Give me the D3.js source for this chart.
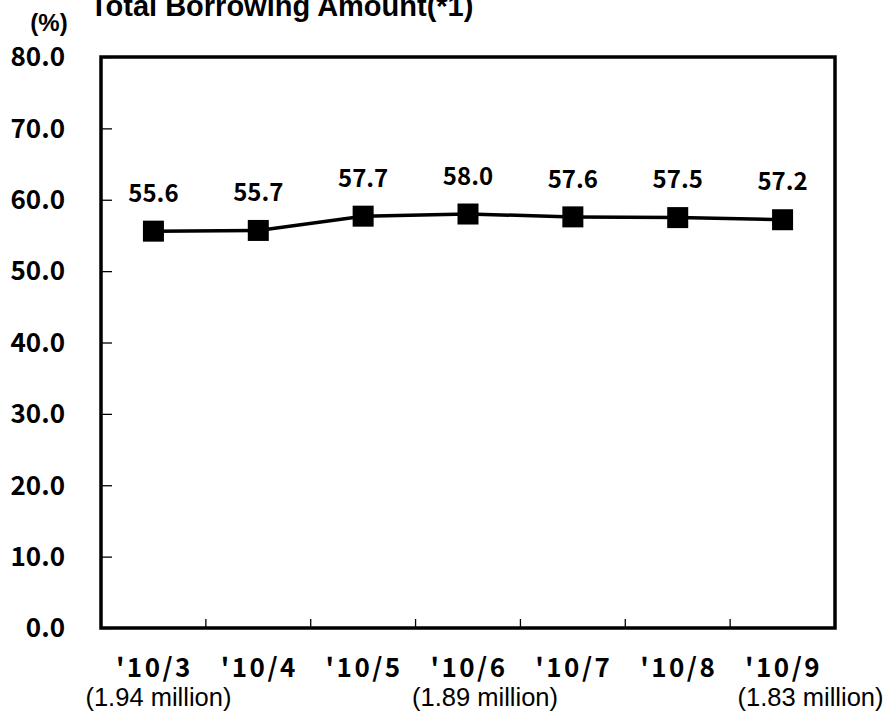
<!DOCTYPE html>
<html>
<head>
<meta charset="utf-8">
<script src="https://cdn.jsdelivr.net/npm/d3@7"></script>
<style>
  body { margin: 0; background: #fff; }
  svg { display: block; }
</style>
</head>
<body>
<svg width="885" height="718"></svg>
<script>
// chart data
var months = ["'10/3", "'10/4", "'10/5", "'10/6", "'10/7", "'10/8", "'10/9"];
var ratio = [55.6, 55.7, 57.7, 58.0, 57.6, 57.5, 57.2];
var yTicks = [0, 10, 20, 30, 40, 50, 60, 70, 80];
var notes = [
	{month: "'10/3", text: "(1.94 million)"},
	{month: "'10/6", text: "(1.89 million)"},
	{month: "'10/9", text: "(1.83 million)"}
];
var titleText = "Total Borrowing Amount(*1)";
var unitText = "(%)";

var svg = d3.select('svg');
var jpFont = '"Noto Sans CJK JP", "DejaVu Sans Condensed", sans-serif';
var latFont = '"Liberation Sans", Arial, sans-serif';

//plot box (note: "top" is reserved on window, so use box.*)
var box = {left: 101, right: 835, top: 57, bottom: 628};

var x = d3.scaleBand().domain(months).range([box.left, box.right]);
var y = d3.scaleLinear().domain([0, 80]).range([box.bottom, box.top]);

//title + unit (title is clipped at the top edge like the original)
svg.append('text')
	.attr('x', 90).attr('y', 16)
	.attr('font-family', latFont).attr('font-weight', 'bold').attr('font-size', 29)
	.text(titleText);
svg.append('text')
	.attr('x', 49).attr('y', 31)
	.attr('text-anchor', 'middle')
	.attr('font-family', latFont).attr('font-weight', 'bold').attr('font-size', 24)
	.text(unitText);

//y axis inner ticks
var yAxis = d3.axisRight(y).tickValues(yTicks).tickSize(11).tickFormat('');
svg.append('g')
	.attr('transform', 'translate(' + box.left + ',0)')
	.call(yAxis)
	.call(function(g){ g.select('.domain').remove(); })
	.selectAll('line').attr('stroke', '#000').attr('stroke-width', 1.3);

svg.selectAll('.ylab')
	.data(yTicks)
	.enter()
	.append('text')
	.attr('class', 'ylab')
	.attr('x', 65)
	.attr('y', function(d){ return y(d); })
	.attr('dy', '0.36em')
	.attr('text-anchor', 'end')
	.attr('font-family', jpFont).attr('font-weight', 'bold').attr('font-size', 26)
	.text(function(d){ return d3.format('.1f')(d); });

//x ticks between categories, pointing up
var xTickPos = months.slice(1).map(function(m){ return x(m); });
svg.selectAll('.xtick')
	.data(xTickPos)
	.enter()
	.append('line')
	.attr('x1', function(d){ return d; }).attr('x2', function(d){ return d; })
	.attr('y1', box.bottom).attr('y2', box.bottom - 9)
	.attr('stroke', '#000').attr('stroke-width', 1.3);

//frame
svg.append('rect')
	.attr('x', box.left).attr('y', box.top)
	.attr('width', box.right - box.left).attr('height', box.bottom - box.top)
	.attr('fill', 'none').attr('stroke', '#000').attr('stroke-width', 3.5);

//x labels
svg.selectAll('.xlab')
	.data(months)
	.enter()
	.append('text')
	.attr('class', 'xlab')
	.attr('x', function(d){ return x(d) + x.bandwidth()/2 + 1; })
	.attr('y', 677)
	.attr('text-anchor', 'middle')
	.attr('letter-spacing', 2.5)
	.attr('font-family', jpFont).attr('font-weight', 'bold').attr('font-size', 26)
	.text(function(d){ return d; });

var noteShift = [5, 17, 28];
svg.selectAll('.note')
	.data(notes)
	.enter()
	.append('text')
	.attr('class', 'note')
	.attr('x', function(d, i){ return x(d.month) + x.bandwidth()/2 + noteShift[i]; })
	.attr('y', 706)
	.attr('text-anchor', 'middle')
	.attr('font-family', latFont).attr('font-size', 25.5)
	.text(function(d){ return d.text; });

//series line
var pts = months.map(function(m, i){ return {m: m, v: ratio[i]}; });
var line = d3.line()
	.x(function(d){ return x(d.m) + x.bandwidth()/2; })
	.y(function(d){ return y(d.v); });

svg.append('path')
	.datum(pts)
	.attr('d', line)
	.attr('fill', 'none')
	.attr('stroke', '#000')
	.attr('stroke-width', 3.5);

var sq = 21;
svg.selectAll('.mark')
	.data(pts)
	.enter()
	.append('rect')
	.attr('class', 'mark')
	.attr('x', function(d){ return x(d.m) + x.bandwidth()/2 - sq/2; })
	.attr('y', function(d){ return y(d.v) - sq/2; })
	.attr('width', sq).attr('height', sq)
	.attr('fill', '#000');

svg.selectAll('.val')
	.data(pts)
	.enter()
	.append('text')
	.attr('class', 'val')
	.attr('x', function(d){ return x(d.m) + x.bandwidth()/2; })
	.attr('y', function(d){ return y(d.v) - 38; })
	.attr('dy', '0.36em')
	.attr('text-anchor', 'middle')
	.attr('font-family', jpFont).attr('font-weight', 'bold').attr('font-size', 24)
	.text(function(d){ return d3.format('.1f')(d.v); });
</script>
</body>
</html>
